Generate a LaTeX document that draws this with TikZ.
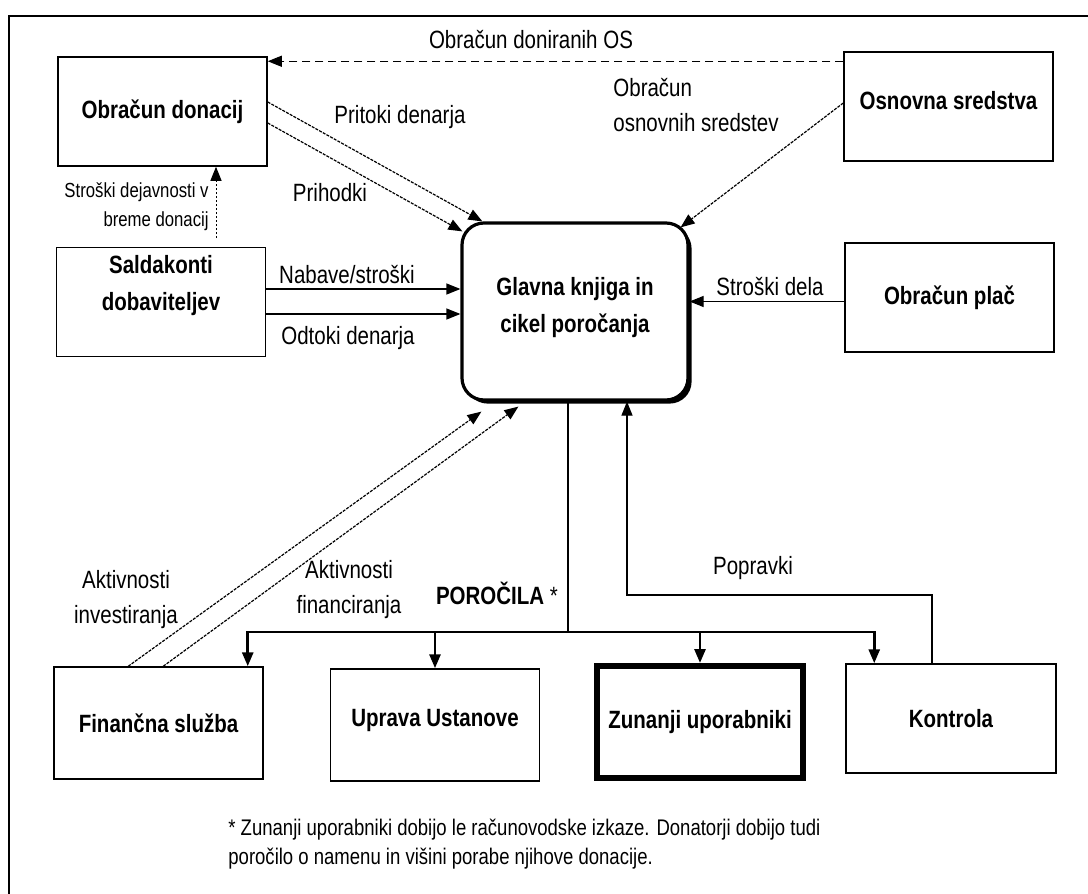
\documentclass[tikz,border=0pt]{standalone}
\usepackage{fontspec}
\setmainfont{Liberation Sans}[FakeStretch=0.82]
\usetikzlibrary{arrows.meta, calc, positioning, shadows}

\tikzset{
    box/.style={draw, line width=0.75pt, minimum width=104.5pt, minimum height=54.5pt, inner sep=2pt, align=center, font=\fontsize{12.5}{18.5}\selectfont\bfseries},
    lbl/.style={inner sep=0pt, align=center, font=\fontsize{12.5}{17.5}\selectfont},
    lblsmall/.style={inner sep=0pt, font=\fontsize{10.2}{14.5}\selectfont},
    arr/.style={-{Triangle[length=7pt, width=5.5pt]}},
    flow/.style={arr, line width=0.6pt},
    fineline/.style={arr, line width=0.6pt, dash pattern=on 1.5pt off 0.6pt},
    dotline/.style={arr, line width=0.45pt, dash pattern=on 4pt off 2.5pt},
    busline/.style={arr, line width=1.4pt}
}

\begin{document}
\begin{tikzpicture}[x=0.5pt, y=-0.5pt]
                        \useasboundingbox (0, 0) rectangle (1088, 894);
                        \draw[line width=0.8pt] (9, 894) -- (9, 16) -- (1088, 16);

                        \node[box] (don) at (162.5, 111.5) {Obračun donacij};
                        \node[box, text depth=6pt] (osn) at (948.5, 106.5) {Osnovna sredstva};
                        \node[box, text depth=19pt] (sal) at (161, 302) {Saldakonti\\dobaviteljev};
                        \node[box] (plac) at (949.5, 297.5) {Obračun plač};
                        \node[box, fill=white, rounded corners=11pt, line width=1.6pt, minimum width=113pt, minimum height=88.5pt, text depth=7pt,
                            drop shadow={shadow xshift=1.8pt, shadow yshift=-1.8pt, opacity=1, fill=black}] (glv) at (575, 311.5) {Glavna knjiga in\\cikel poročanja};
                        \node[box, minimum height=56pt] (fin) at (158.5, 723) {Finančna služba};
                        \node[box, minimum height=56pt, text depth=7pt] (upr) at (435, 725) {Uprava Ustanove};
                        \node[box, line width=3pt, minimum width=103pt, minimum height=56pt] (zun) at (700, 722) {Zunanji uporabniki};
                        \node[box, minimum width=105pt] (kon) at (951, 718.5) {Kontrola};

                        \coordinate (osnd) at ([yshift=-5pt]osn.north west);
                        \draw[dotline] (osnd) -- (osnd -| don.east);
                        \node[lbl] (ldon) at (531, 40) {Obračun doniranih OS};

                        \draw[fineline] ([yshift=4.75pt]don.east) -- ([xshift=11pt]glv.north west);
                        \draw[fineline] ([yshift=-5.75pt]don.east) -- ([xshift=1pt, yshift=-5pt]glv.north west);
                        \node[lbl] (lprit) at (400, 117) {Pritoki denarja};
                        \node[lbl] (lprih) at (330, 193) {Prihodki};

                        \coordinate (sdv) at (216, 238);
                        \draw[dotline, dash pattern=on 1pt off 1pt] (sdv) -- (sdv |- don.south);
                        \node[lblsmall, align=right, anchor=east] (lsdv) at (209, 207) {Stroški dejavnosti v\\breme donacij};

                        \draw[fineline] ([yshift=1.75pt]osn.west) -- ([xshift=-4.5pt, yshift=-3pt]glv.north east);
                        \node[lbl, align=left, anchor=west] (losn) at (613, 105) {Obračun\\osnovnih sredstev};

                        \coordinate (sal1) at ([yshift=6.5pt]sal.east);
                        \coordinate (sal2) at ([yshift=-6pt]sal.east);
                        \draw[flow] (sal1) -- (sal1 -| glv.west);
                        \draw[flow] (sal2) -- (sal2 -| glv.west);
                        \node[lbl] (lnab) at (347, 275) {Nabave/stroški};
                        \node[lbl] (lodt) at (348, 338) {Odtoki denarja};

                        \coordinate (pl) at ([yshift=-2pt]plac.west);
                        \draw[flow] (pl) -- (pl -| glv.east);
                        \node[lbl] (lstd) at (770, 287) {Stroški dela};

                        \coordinate (bus) at (568, 632);
                        \draw[line width=0.9pt] (bus |- glv.south) -- (bus);
                        \draw[busline] (bus) -| ([xshift=-8pt]fin.north east);
                        \draw[busline] (bus) -| (upr.north);
                        \draw[busline] (bus) -| (zun.north);
                        \draw[busline] (bus) -| ([xshift=14.5pt]kon.north west);
                        \node[lbl] (lpor) at (497, 593) {\textbf{POROČILA} *};

                        \coordinate (pop) at (627, 595);
                        \draw[flow] ([xshift=-9.5pt]kon.north) |- (pop) -- (pop |- glv.south);
                        \node[lbl] (lpop) at (753, 568) {Popravki};

                        \draw[fineline] ([xshift=37.5pt]fin.north west) -- ([xshift=10.5pt, yshift=-5pt]glv.south west);
                        \draw[fineline] ([xshift=55pt]fin.north west) -- ([xshift=29pt, yshift=-2.5pt]glv.south west);
                        \node[lbl] (linv) at (126, 600) {Aktivnosti\\investiranja};
                        \node[lbl] (lfnc) at (349, 590) {Aktivnosti\\financiranja};

                        \node[lblsmall, font=\fontsize{11.3}{14.5}\selectfont, align=left, anchor=north west] (note) at (228, 819) {* Zunanji uporabniki dobijo le računovodske izkaze. Donatorji dobijo tudi\\poročilo o namenu in višini porabe njihove donacije.};
\end{tikzpicture}
\end{document}
